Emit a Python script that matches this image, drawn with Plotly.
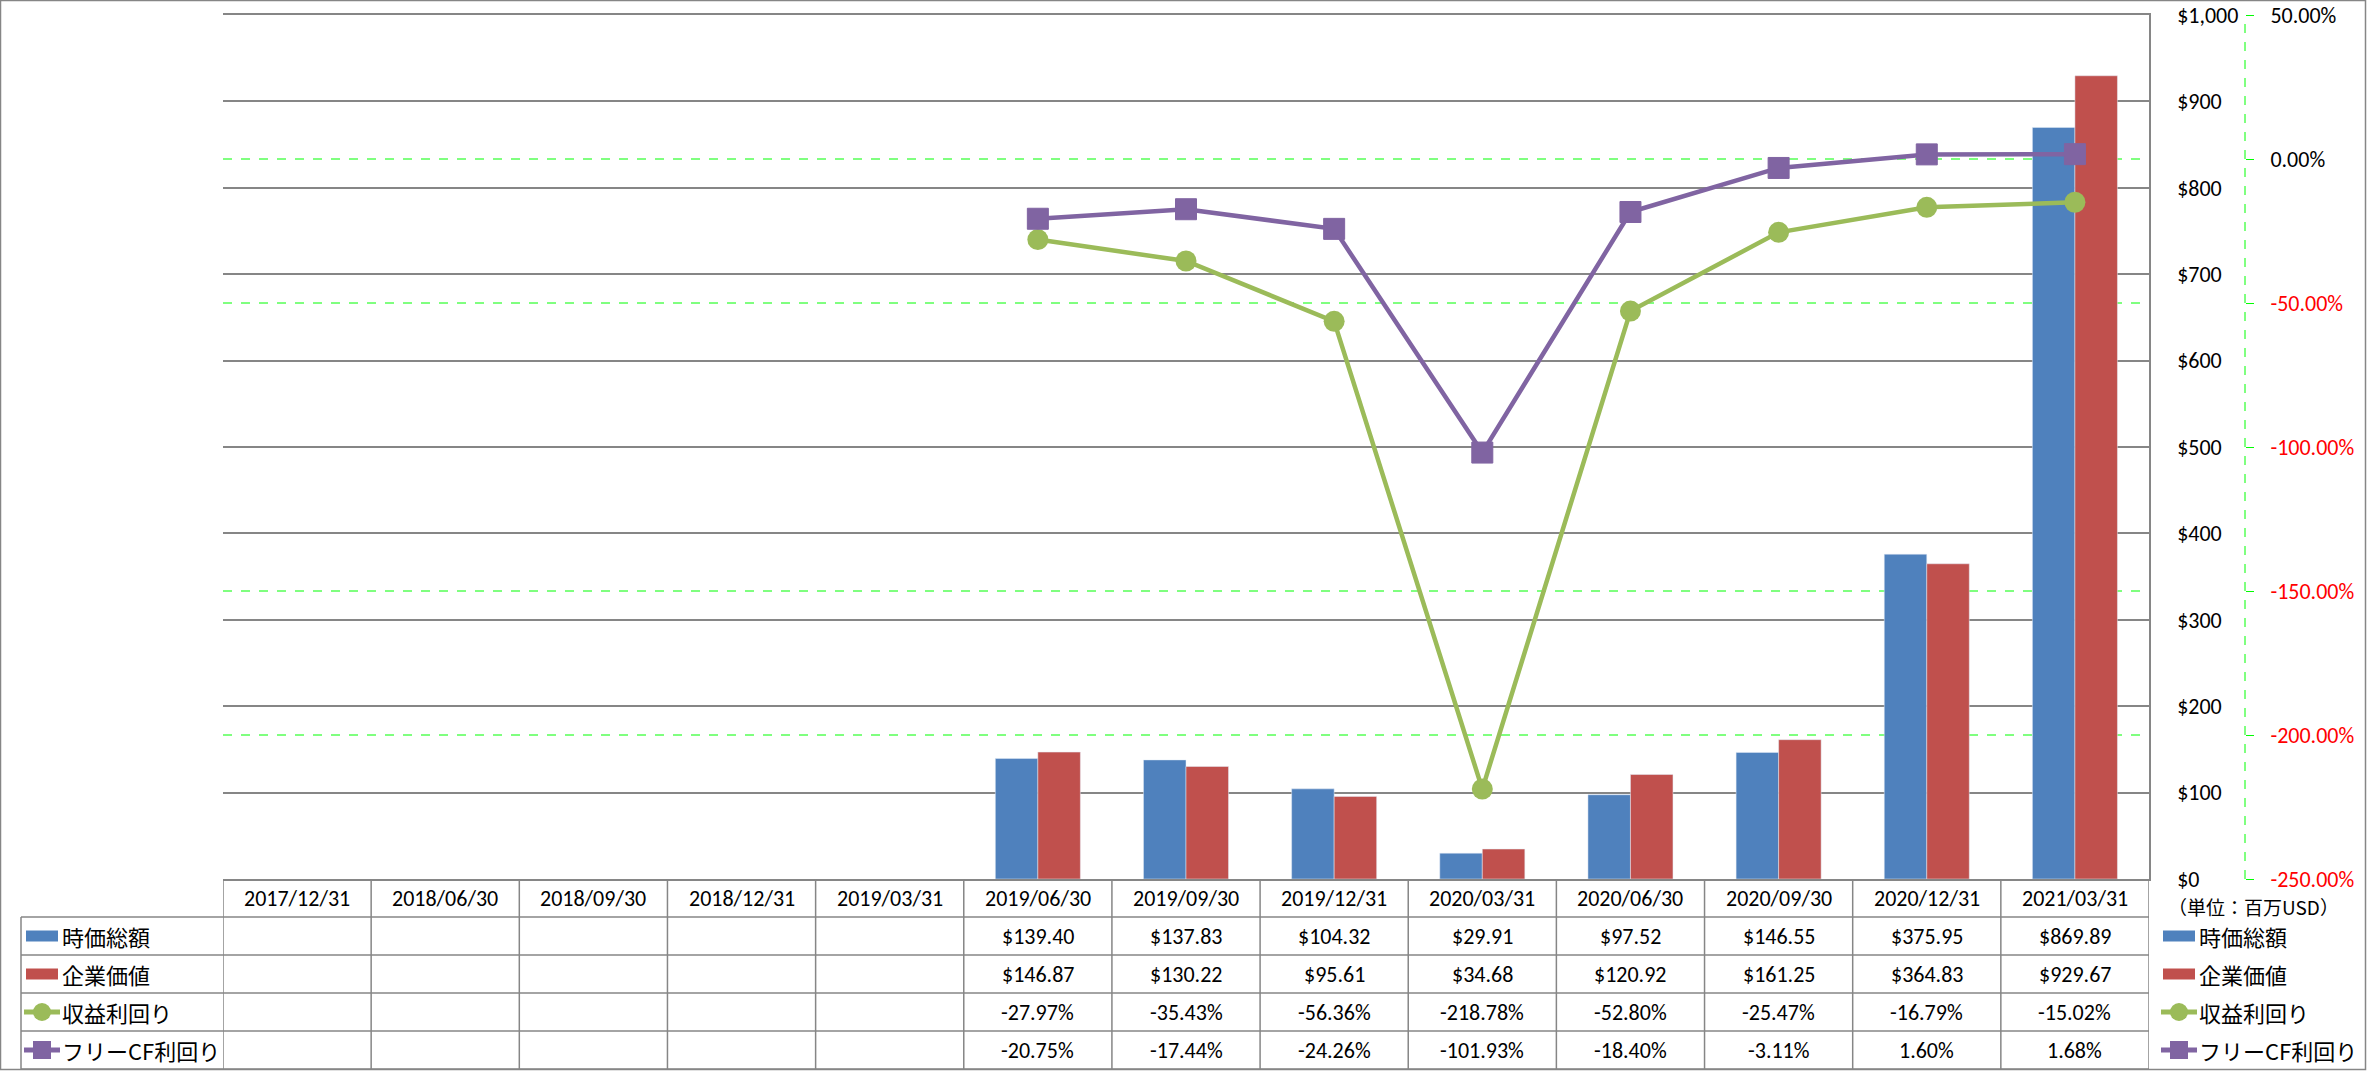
import plotly.graph_objects as go

# ---------------- data ----------------
categories = ["2017/12/31", "2018/06/30", "2018/09/30", "2018/12/31", "2019/03/31",
              "2019/06/30", "2019/09/30", "2019/12/31", "2020/03/31", "2020/06/30",
              "2020/09/30", "2020/12/31", "2021/03/31"]
market_cap = [None, None, None, None, None, 139.40, 137.83, 104.32, 29.91, 97.52, 146.55, 375.95, 869.89]
enterprise_value = [None, None, None, None, None, 146.87, 130.22, 95.61, 34.68, 120.92, 161.25, 364.83, 929.67]
earnings_yield = [None, None, None, None, None, -27.97, -35.43, -56.36, -218.78, -52.80, -25.47, -16.79, -15.02]
fcf_yield = [None, None, None, None, None, -20.75, -17.44, -24.26, -101.93, -18.40, -3.11, 1.60, 1.68]

series_names = ["時価総額", "企業価値", "収益利回り", "フリーCF利回り"]
unit_label = "（単位：百万USD）"
y1_ticks = list(range(0, 1001, 100))
y2_ticks = list(range(-250, 51, 50))

# ---------------- style ----------------
W, H = 2367, 1071
BLUE, RED, GREEN, PURPLE = "#4F81BD", "#C0504D", "#9BBB59", "#8064A2"
GRID = "#868686"
LIME = "#00FF00"
FONT = "Calibri, Carlito, Lato, 'Noto Sans CJK JP', sans-serif"
JFONT = "Meiryo, 'Noto Sans CJK JP', sans-serif"

def fx(p):
    return p / W

def fy(p):
    return 1 - p / H

PLOT_L, PLOT_R, PLOT_T, PLOT_B = 223, 2149, 15, 879
Y2_POS = 2245
ROW_EDGES = [879, 917, 955, 993, 1031, 1069]
ROW_CENTERS = [(ROW_EDGES[i] + ROW_EDGES[i + 1]) / 2 for i in range(5)]
LEG_L = 21

fig = go.Figure()
fig.add_trace(go.Bar(x=categories, y=market_cap, name=series_names[0], marker_color=BLUE))
fig.add_trace(go.Bar(x=categories, y=enterprise_value, name=series_names[1], marker_color=RED))
fig.add_trace(go.Scatter(x=categories, y=earnings_yield, name=series_names[2], yaxis="y2",
                         mode="lines+markers", line=dict(color=GREEN, width=4.5),
                         marker=dict(symbol="circle", size=21, color=GREEN)))
fig.add_trace(go.Scatter(x=categories, y=fcf_yield, name=series_names[3], yaxis="y2",
                         mode="lines+markers", line=dict(color=PURPLE, width=4.5),
                         marker=dict(symbol="square", size=21, color=PURPLE,
                                     line=dict(color=PURPLE, width=1))))

def pct_text(v):
    s = f"{v:.2f}%"
    return f"<span style='color:#FF0000'>{s}</span>" if v < 0 else s

shapes = []
annotations = []

# secondary-axis gridlines (dashed, beneath the primary gridlines; the ends coincide with the frame)
for v in y2_ticks[1:-1]:
    shapes.append(dict(type="line", xref="x domain", yref="y2", x0=0, x1=1, y0=v, y1=v,
                       layer="below", line=dict(color=LIME, width=1, dash="dash")))

# outer border
shapes.append(dict(type="rect", xref="paper", yref="paper", x0=fx(0.5), x1=fx(W - 1.5),
                   y0=fy(H - 1.5), y1=fy(0.5), line=dict(color=GRID, width=1.5)))
# secondary axis line (dashed)
shapes.append(dict(type="line", xref="paper", yref="paper", x0=fx(Y2_POS), x1=fx(Y2_POS),
                   y0=fy(PLOT_B), y1=fy(PLOT_T), line=dict(color=LIME, width=1, dash="dash")))

# table horizontal lines
for e in ROW_EDGES[1:]:
    shapes.append(dict(type="line", xref="paper", yref="paper", x0=fx(LEG_L), x1=fx(PLOT_R),
                       y0=fy(e), y1=fy(e), line=dict(color=GRID, width=1.5)))
# table vertical lines at category boundaries
for i in range(len(categories) + 1):
    shapes.append(dict(type="line", xref="x", yref="paper", x0=i - 0.5, x1=i - 0.5,
                       y0=fy(ROW_EDGES[-1]), y1=fy(ROW_EDGES[0]), line=dict(color=GRID, width=1.5)))
shapes.append(dict(type="line", xref="paper", yref="paper", x0=fx(LEG_L), x1=fx(LEG_L),
                   y0=fy(ROW_EDGES[-1]), y1=fy(ROW_EDGES[1]), line=dict(color=GRID, width=1.5)))

# header dates
for c in categories:
    annotations.append(dict(x=c, xref="x", y=fy(ROW_CENTERS[0]), yref="paper", text=c,
                            showarrow=False, font=dict(family=FONT, size=22, color="black"),
                            xanchor="center", yanchor="middle"))

# table values
rows = [
    [None if v is None else f"${v:,.2f}" for v in market_cap],
    [None if v is None else f"${v:,.2f}" for v in enterprise_value],
    [None if v is None else f"{v:.2f}%" for v in earnings_yield],
    [None if v is None else f"{v:.2f}%" for v in fcf_yield],
]
for r, vals in enumerate(rows):
    for c, t in zip(categories, vals):
        if t is None:
            continue
        annotations.append(dict(x=c, xref="x", y=fy(ROW_CENTERS[r + 1]), yref="paper", text=t,
                                showarrow=False, font=dict(family=FONT, size=22, color="black"),
                                xanchor="center", yanchor="middle"))

kinds = [("bar", BLUE), ("bar", RED), ("circle", GREEN), ("square", PURPLE)]

def add_key(x0, yc, kind, color):
    if kind == "bar":
        shapes.append(dict(type="rect", xref="paper", yref="paper", x0=fx(x0), x1=fx(x0 + 32),
                           y0=fy(yc + 5.5), y1=fy(yc - 5.5), fillcolor=color, line=dict(width=0)))
    else:
        shapes.append(dict(type="line", xref="paper", yref="paper", x0=fx(x0 - 2), x1=fx(x0 + 34),
                           y0=fy(yc), y1=fy(yc), line=dict(color=color, width=5)))
        r = 9
        shapes.append(dict(type="circle" if kind == "circle" else "rect", xref="paper", yref="paper",
                           x0=fx(x0 + 16 - r), x1=fx(x0 + 16 + r), y0=fy(yc + r), y1=fy(yc - r),
                           fillcolor=color, line=dict(width=0)))

for i, (name, (kind, color)) in enumerate(zip(series_names, kinds)):
    yc = ROW_CENTERS[i + 1]
    # table legend column
    add_key(26, yc, kind, color)
    annotations.append(dict(x=fx(60), xref="paper", y=fy(yc), yref="paper", text=name,
                            showarrow=False, font=dict(family=JFONT, size=22, color="black"),
                            xanchor="left", yanchor="middle"))
    # right legend
    add_key(2163, yc, kind, color)
    annotations.append(dict(x=fx(2197), xref="paper", y=fy(yc), yref="paper", text=name,
                            showarrow=False, font=dict(family=JFONT, size=22, color="black"),
                            xanchor="left", yanchor="middle"))

annotations.append(dict(x=fx(2166), xref="paper", y=fy(906), yref="paper", text=unit_label,
                        showarrow=False, font=dict(family=JFONT, size=19, color="black"),
                        xanchor="left", yanchor="middle"))

fig.update_layout(
    width=W, height=H, autosize=False,
    margin=dict(l=0, r=0, t=0, b=0, pad=0, autoexpand=False),
    paper_bgcolor="white", plot_bgcolor="white",
    showlegend=False,
    barmode="group", bargap=0.426, bargroupgap=0,
    font=dict(family=FONT, size=22, color="black"),
    xaxis=dict(domain=[fx(PLOT_L), fx(PLOT_R)], type="category", categoryorder="array",
               categoryarray=categories, range=[-0.5, len(categories) - 0.5],
               showticklabels=False, ticks="", showgrid=False, zeroline=False, automargin=False,
               showline=True, mirror=True, linecolor=GRID, linewidth=1.5),
    yaxis=dict(domain=[fy(PLOT_B), fy(PLOT_T)], range=[0, 1000], side="right", automargin=False,
               tickvals=y1_ticks, ticktext=[f"${v:,}" for v in y1_ticks],
               showgrid=True, gridcolor=GRID, gridwidth=1.5, zeroline=False,
               showline=True, linecolor=GRID, linewidth=1.5, ticks="",
               ticklabelstandoff=22, tickfont=dict(family=FONT, size=22, color="black")),
    yaxis2=dict(overlaying="y", side="right", anchor="free", position=fx(Y2_POS), automargin=False,
                range=[-250, 50], tickvals=y2_ticks, ticktext=[pct_text(v) for v in y2_ticks],
                showgrid=False, zeroline=False, showline=False, ticks="outside", ticklen=8,
                tickwidth=1, tickcolor=LIME, ticklabelstandoff=12,
                tickfont=dict(family=FONT, size=22, color="black")),
    shapes=shapes, annotations=annotations,
)

fig.write_html("out.html", post_script="document.body.style.margin='0';document.body.style.overflow='hidden';")
